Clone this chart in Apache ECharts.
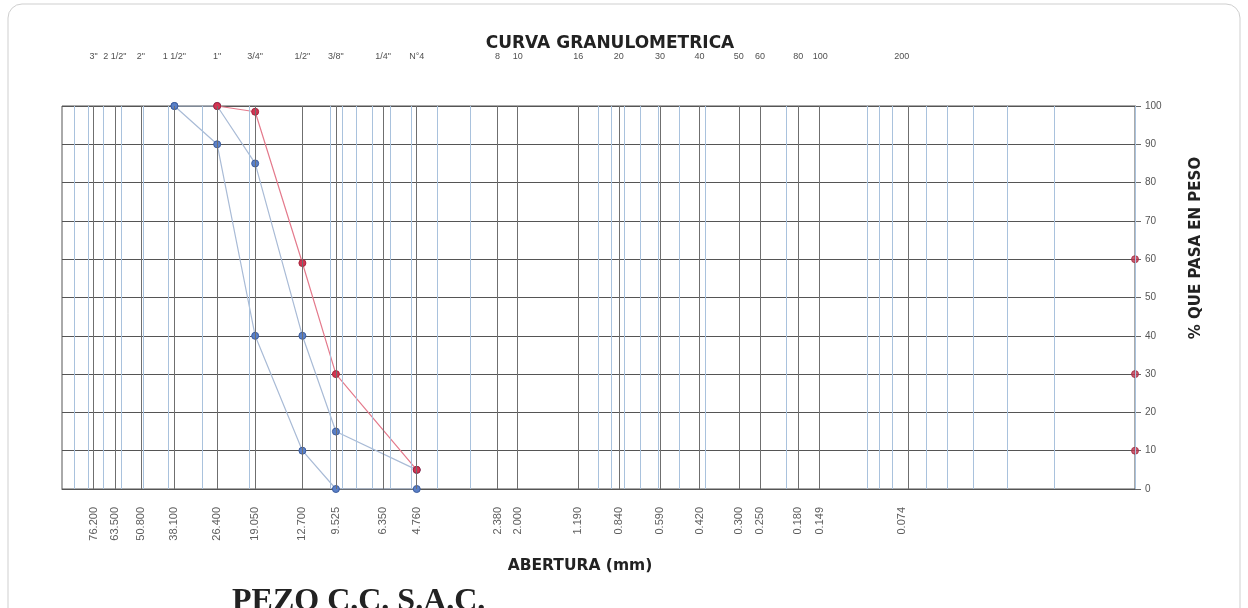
<!DOCTYPE html>
<html>
<head>
<meta charset="utf-8">
<script src="https://cdn.jsdelivr.net/npm/echarts@6/dist/echarts.min.js"></script>
<style>
html,body{margin:0;padding:0;background:#fff;}
#c{width:1248px;height:608px;}
</style>
</head>
<body>
<div id="c"></div>
<script>
// Sieve openings (mm) and names
const sieveMm = [76.2, 63.5, 50.8, 38.1, 26.4, 19.05, 12.7, 9.525, 6.35, 4.76, 2.38, 2.0, 1.19, 0.84, 0.59, 0.42, 0.30, 0.25, 0.18, 0.149, 0.074];
const sieveNames = ['3"', '2 1/2"', '2"', '1 1/2"', '1"', '3/4"', '1/2"', '3/8"', '1/4"', 'N°4', '8', '10', '16', '20', '30', '40', '50', '60', '80', '100', '200'];
const mmLabels = ['76.200', '63.500', '50.800', '38.100', '26.400', '19.050', '12.700', '9.525', '6.350', '4.760', '2.380', '2.000', '1.190', '0.840', '0.590', '0.420', '0.300', '0.250', '0.180', '0.149', '0.074'];

// Gradation curves: [opening mm, % passing]
const upperLimit = [[38.1, 100], [26.4, 100], [19.05, 85], [12.7, 40], [9.525, 15], [4.76, 5]];
const lowerLimit = [[38.1, 100], [26.4, 90], [19.05, 40], [12.7, 10], [9.525, 0], [4.76, 0]];
const sample = [[26.4, 100], [19.05, 98.5], [12.7, 59], [9.525, 30], [4.76, 5]];
const dPoints = [[0.01, 60], [0.01, 30], [0.01, 10]];

const yTicks = [0, 10, 20, 30, 40, 50, 60, 70, 80, 90, 100];

// log minor grid (1..9 x 10^k)
const logGrid = [];
for (let k = -2; k <= 1; k++) for (let m = 1; m <= 9; m++) logGrid.push(+(m * Math.pow(10, k)).toPrecision(3));

const chart = echarts.init(document.getElementById('c'));
const font = 'Liberation Sans, Arial, sans-serif';

chart.setOption({
  animation: false,
  backgroundColor: '#fff',
  grid: { left: 62, right: 113, top: 106, bottom: 119, show: true, borderColor: '#555', borderWidth: 1, backgroundColor: 'transparent' },
  xAxis: {
    type: 'log', logBase: 10, min: 0.01, max: 100, inverse: true,
    axisLine: { show: true, lineStyle: { color: '#555' } },
    axisTick: { show: false }, axisLabel: { show: false }, splitLine: { show: false }
  },
  yAxis: {
    type: 'value', min: 0, max: 100, interval: 10, position: 'right',
    axisLine: { show: true, lineStyle: { color: '#555' } },
    axisTick: { show: true, length: 6, lineStyle: { color: '#666' } },
    axisLabel: { color: '#555', fontSize: 10, fontFamily: font, margin: 10,
      formatter: v => yTicks.includes(v) ? String(v) : '' },
    splitLine: { show: true, lineStyle: { color: '#555', width: 1 } }
  },
  graphic: [
    { type: 'rect', shape: { x: 8, y: 4, width: 1232, height: 640, r: 14 }, style: { fill: 'none', stroke: '#cfcfcf', lineWidth: 1 }, silent: true },
    { type: 'text', x: 610, y: 44, style: { text: 'CURVA GRANULOMETRICA', font: 'bold 17px "DejaVu Sans", sans-serif', fill: '#222', textAlign: 'center', textVerticalAlign: 'middle' } },
    { type: 'text', x: 580, y: 566, style: { text: 'ABERTURA (mm)', font: 'bold 15.5px "DejaVu Sans", sans-serif', fill: '#222', textAlign: 'center', textVerticalAlign: 'middle' } },
    { type: 'text', x: 1196, y: 248, rotation: Math.PI / 2, style: { text: '% QUE PASA EN PESO', font: 'bold 15px "DejaVu Sans", sans-serif', fill: '#222', textAlign: 'center', textVerticalAlign: 'middle' } },
    { type: 'text', x: 232, y: 586, style: { text: 'PEZO C.C. S.A.C.', font: 'bold 32px "Liberation Serif", "DejaVu Serif", serif', fill: '#222', textAlign: 'left', textVerticalAlign: 'top' } }
  ],
  series: [
    { type: 'line', data: [], silent: true, z: 1,
      markLine: { silent: true, symbol: 'none', label: { show: false }, animation: false,
        lineStyle: { color: '#a9c2dd', type: 'solid', width: 1 },
        data: logGrid.map(v => ({ xAxis: v })) } },
    { type: 'line', data: [], silent: true, z: 1,
      markLine: { silent: true, symbol: 'none', label: { show: false }, animation: false,
        lineStyle: { color: '#6f6f6f', type: 'solid', width: 1 },
        data: sieveMm.map(v => ({ xAxis: v })) } },
    { name: 'Límite inferior', type: 'line', data: lowerLimit, z: 3,
      lineStyle: { color: '#a9bbd6', width: 1.2 }, symbol: 'circle', symbolSize: 7,
      itemStyle: { color: '#5a80c8', borderColor: '#3c5d9e', borderWidth: 1 } },
    { name: 'Límite superior', type: 'line', data: upperLimit, z: 3,
      lineStyle: { color: '#a9bbd6', width: 1.2 }, symbol: 'circle', symbolSize: 7,
      itemStyle: { color: '#5a80c8', borderColor: '#3c5d9e', borderWidth: 1 } },
    { name: 'Muestra', type: 'line', data: sample, z: 4,
      lineStyle: { color: '#e47a8c', width: 1.2 }, symbol: 'circle', symbolSize: 7,
      itemStyle: { color: '#d23452', borderColor: '#a8243c', borderWidth: 1 } },
    { name: 'D', type: 'scatter', data: dPoints, z: 4, clip: false, symbolSize: 7,
      itemStyle: { color: '#c2334e', borderColor: '#9c2a3e', borderWidth: 1 } },
    { type: 'scatter', silent: true, clip: false, symbolSize: 0, z: 5,
      data: sieveMm.map((v, i) => ({ value: [v, 100], name: sieveNames[i] })),
      label: { show: true, position: 'top', distance: 45, formatter: p => sieveNames[p.dataIndex],
        fontSize: 9, fontFamily: font, color: '#222' } },
    { type: 'scatter', silent: true, clip: false, symbolSize: 0, z: 5,
      data: sieveMm.map((v, i) => ({ value: [v, 0], name: mmLabels[i] })),
      label: { show: true, position: 'bottom', distance: 18, rotate: 90, align: 'right', verticalAlign: 'middle',
        formatter: p => mmLabels[p.dataIndex], fontSize: 11, fontFamily: font, color: '#333' } }
  ]
});
</script>
</body>
</html>
